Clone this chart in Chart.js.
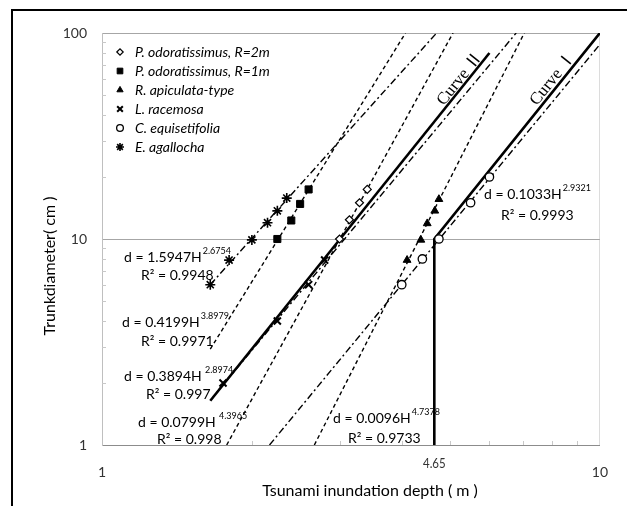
<!DOCTYPE html>
<html>
<head>
<meta charset="utf-8">
<script src="https://cdn.jsdelivr.net/npm/chart.js@4.4.0/dist/chart.umd.min.js"></script>
<style>
  html, body { margin: 0; padding: 0; background: #fff; }
  #wrap { width: 627px; height: 506px; }
</style>
</head>
<body>
<div id="wrap"><canvas id="chart"></canvas></div>
<script>
// measured points: H = inundation depth (m), d = trunk diameter (cm)
const odor2H = [3.0, 3.14, 3.29, 3.41];
const odor2D = [10, 12.4, 15, 17.4];
const odor1H = [2.25, 2.4, 2.5, 2.6];
const odor1D = [10, 12.3, 14.8, 17.4];
const apicH = [4.1, 4.37, 4.5, 4.66, 4.75];
const apicD = [7.9, 9.9, 11.9, 13.7, 15.6];
const racemH = [1.75, 2.25, 2.6, 2.8];
const racemD = [2, 4, 6, 7.9];
const equisH = [4.0, 4.4, 4.75, 5.5, 6.0];
const equisD = [6, 8, 10, 15, 20];
const agalH = [1.65, 1.8, 2.0, 2.15, 2.25, 2.35];
const agalD = [6, 7.9, 9.9, 12, 13.7, 15.8];

// fitted power lines, end points
const agalFitH = [1.65, 4.7];
const agalFitD = [6, 100];
const odor1FitH = [1.65, 4.07];
const odor1FitD = [2.92, 100];
const racemFitH = [1.7, 6.79];
const racemFitD = [1.8, 100];
const odor2FitH = [1.78, 5.07];
const odor2FitD = [1, 100];
const apicFitH = [2.67, 7.05];
const apicFitD = [1, 100];
const equisFitH = [2.17, 10];
const equisFitD = [1, 88];

// design curves
const curve2H = [1.65, 6.0];
const curve2D = [1.64, 80];
const curve1H = [4.65, 4.65, 10];
const curve1D = [1, 10, 100];

const xTicks = [1, 2, 3, 4, 5, 6, 7, 8, 9, 10];
const yTicks = [1, 2, 3, 4, 5, 6, 7, 8, 9, 10, 20, 30, 40, 50, 60, 70, 80, 90, 100];
const xLabels = [1, 10];
const yLabels = [1, 10, 100];

const species = ['P. odoratissimus, R=2m', 'P. odoratissimus, R=1m', 'R. apiculata-type',
  'L. racemosa', 'C. equisetifolia', 'E. agallocha'];

function pts(xs, ys) {
  return xs.map((x, i) => ({ x: x, y: ys[i] }));
}

const DASH = [4, 3];
const DASHDOT = [7, 3, 2, 3];

const markerStyle = [
  { pointStyle: 'rectRot', radius: 4, fill: '#fff', bw: 1.2 },
  { pointStyle: 'rect', radius: 5, fill: '#000', bw: 1 },
  { pointStyle: 'triangle', radius: 4.5, fill: '#000', bw: 1 },
  { pointStyle: 'crossRot', radius: 5, fill: '#000', bw: 2 },
  { pointStyle: 'circle', radius: 4.2, fill: '#fff', bw: 1.3 },
  { pointStyle: 'star', radius: 5, fill: '#000', bw: 1.6 },
];

const markerData = [
  pts(odor2H, odor2D), pts(odor1H, odor1D), pts(apicH, apicD),
  pts(racemH, racemD), pts(equisH, equisD), pts(agalH, agalD),
];

const datasets = species.map((name, i) => ({
  label: name,
  data: markerData[i],
  showLine: false,
  pointStyle: markerStyle[i].pointStyle,
  pointRadius: markerStyle[i].radius,
  pointBackgroundColor: markerStyle[i].fill,
  pointBorderColor: '#000',
  pointBorderWidth: markerStyle[i].bw,
  order: 0,
}));

function fitLine(data, dash, width) {
  return {
    label: '',
    data: data,
    showLine: true,
    borderColor: '#000',
    borderWidth: width,
    borderDash: dash,
    pointRadius: 0,
    fill: false,
    order: 1,
  };
}

datasets.push(
  fitLine(pts(agalFitH, agalFitD), DASHDOT, 1.4),
  fitLine(pts(odor1FitH, odor1FitD), DASH, 1.4),
  fitLine(pts(racemFitH, racemFitD), DASHDOT, 1.4),
  fitLine(pts(odor2FitH, odor2FitD), DASH, 1.4),
  fitLine(pts(apicFitH, apicFitD), DASH, 1.4),
  fitLine(pts(equisFitH, equisFitD), DASHDOT, 1.4),
  fitLine(pts(curve2H, curve2D), [], 2.6),
  fitLine(pts(curve1H, curve1D), [], 2.6)
);

// regression labels: [left x, middle y, coefficient, exponent, R2, R2 left x, R2 y]
const equations = [
  [124, 257, '1.5947', '2.6754', '0.9948', 141, 275],
  [122, 322, '0.4199', '3.8979', '0.9971', 141, 341],
  [124, 376, '0.3894', ' 2.8974', '0.997', 146, 394],
  [138, 422, '0.0799', ' 4.3965', '0.998', 157, 439],
  [333, 418, '0.0096', '4.7378', '0.9733', 348, 438],
  [484, 194, '0.1033', '2.9321', '0.9993', 501, 215],
];

const FONT = 'Lato, "Open Sans", sans-serif';

const decor = {
  id: 'decor',
  beforeDraw(chart) {
    const ctx = chart.ctx;
    ctx.save();
    ctx.fillStyle = '#fff';
    ctx.fillRect(0, 0, chart.width, chart.height);
    ctx.restore();
  },
  afterDatasetsDraw(chart) {
    const ctx = chart.ctx;
    const xs = chart.scales.x;
    const ys = chart.scales.y;
    const area = chart.chartArea;
    ctx.save();

    // small inside ticks
    ctx.strokeStyle = '#c8c8c8';
    ctx.lineWidth = 1;
    ctx.beginPath();
    yTicks.forEach((v) => {
      if (yLabels.includes(v)) return;
      const py = Math.round(ys.getPixelForValue(v)) + 0.5;
      ctx.moveTo(area.left, py);
      ctx.lineTo(area.left + 4, py);
    });
    xTicks.forEach((v) => {
      if (xLabels.includes(v)) return;
      const px = Math.round(xs.getPixelForValue(v)) + 0.5;
      ctx.moveTo(px, area.bottom);
      ctx.lineTo(px, area.bottom - 4);
    });
    ctx.stroke();

    // legend
    ctx.textBaseline = 'middle';
    ctx.textAlign = 'left';
    species.forEach((name, i) => {
      const y = 52 + i * 19;
      const m = markerStyle[i];
      ctx.fillStyle = m.fill;
      ctx.strokeStyle = '#000';
      ctx.lineWidth = m.bw;
      Chart.helpers.drawPoint(ctx, {
        pointStyle: m.pointStyle, radius: m.radius * 0.8, borderWidth: m.bw, rotation: 0,
      }, 120, y);
      ctx.fillStyle = '#000';
      ctx.font = 'italic 14px ' + FONT;
      ctx.fillText(name, 135, y);
    });

    // equations
    ctx.fillStyle = '#000';
    equations.forEach((e) => {
      ctx.font = '14px ' + FONT;
      const main = 'd = ' + e[2] + 'H';
      ctx.fillText(main, e[0], e[1]);
      const w = ctx.measureText(main).width;
      ctx.font = '9px ' + FONT;
      ctx.fillText(e[3], e[0] + w + 1, e[1] - 6);
      ctx.font = '14px ' + FONT;
      ctx.fillText('R\u00b2 = ' + e[4], e[5], e[6]);
    });

    // curve names
    ctx.font = '17px "Liberation Serif", "Noto Sans CJK JP", serif';
    ctx.textAlign = 'center';
    [['Curve \u2161', 460, 79], ['Curve \u2160', 553, 79]].forEach((c) => {
      ctx.save();
      ctx.translate(c[1], c[2]);
      ctx.rotate(-51 * Math.PI / 180);
      ctx.fillText(c[0], 0, 0);
      ctx.restore();
    });

    // 4.65 marker label
    ctx.save();
    ctx.font = '14px ' + FONT;
    ctx.fillStyle = '#333';
    ctx.translate(xs.getPixelForValue(4.65), 463);
    ctx.scale(0.82, 1);
    ctx.fillText('4.65', 0, 0);
    ctx.restore();

    // axis titles
    ctx.font = '16px ' + FONT;
    ctx.fillStyle = '#000';
    ctx.fillText('Tsunami inundation depth ( m )', 370, 491);
    ctx.save();
    ctx.translate(50, 266);
    ctx.rotate(-Math.PI / 2);
    ctx.fillText('Trunkdiameter( cm )', 0, 0);
    ctx.restore();

    // outer frame
    ctx.strokeStyle = '#000';
    ctx.lineWidth = 2;
    ctx.strokeRect(12, 10, 1000, 1000);
    ctx.restore();
  },
};

new Chart(document.getElementById('chart'), {
  type: 'scatter',
  data: { datasets: datasets },
  options: {
    responsive: true,
    maintainAspectRatio: false,
    animation: false,
    layout: { padding: { top: 33, right: 23, left: 0, bottom: 0 } },
    plugins: {
      legend: { display: false },
      tooltip: { enabled: false },
    },
    scales: {
      x: {
        type: 'logarithmic',
        min: 1,
        max: 10,
        afterBuildTicks: (s) => { s.ticks = xTicks.map((v) => ({ value: v })); },
        afterFit: (s) => { s.height = 61; },
        ticks: {
          autoSkip: false,
          maxRotation: 0,
          padding: 19,
          color: '#333',
          font: { family: FONT, size: 14 },
          callback: (v) => (xLabels.includes(v) ? String(v) : ''),
        },
        grid: {
          drawTicks: false,
          color: (c) => (c.tick && c.tick.value === 10 ? '#dcdcdc' : 'transparent'),
        },
        border: { color: '#8c8c8c' },
      },
      y: {
        type: 'logarithmic',
        min: 1,
        max: 100,
        afterBuildTicks: (s) => { s.ticks = yTicks.map((v) => ({ value: v })); },
        afterFit: (s) => { s.width = 102; },
        ticks: {
          autoSkip: false,
          padding: 15,
          color: '#333',
          font: { family: FONT, size: 14 },
          callback: (v) => (yLabels.includes(v) ? String(v) : ''),
        },
        grid: {
          drawTicks: false,
          color: (c) => (c.tick && (c.tick.value === 10 || c.tick.value === 100) ? '#a6a6a6' : 'transparent'),
        },
        border: { color: '#bfbfbf' },
      },
    },
  },
  plugins: [decor],
});
</script>
</body>
</html>
